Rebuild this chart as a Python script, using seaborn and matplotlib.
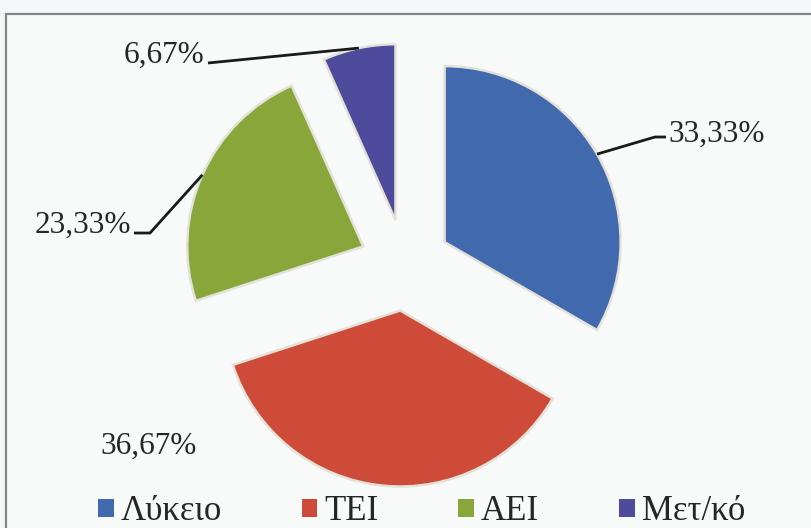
import numpy as np
import matplotlib
matplotlib.use("Agg")
import matplotlib.pyplot as plt
import seaborn as sns
from matplotlib.patches import Rectangle, Patch

# ---- data ----
categories = ["Λύκειο", "ΤΕΙ", "ΑΕΙ", "Μετ/κό"]
values = [33.33, 36.67, 23.33, 6.67]
pct_labels = ["33,33%", "36,67%", "23,33%", "6,67%"]
colors = ["#4169ae", "#cd4b38", "#88a63a", "#4f4b9c"]

sns.set_theme(style="white")
plt.rcParams['font.family'] = ['Liberation Serif', 'DejaVu Serif']
palette = sns.color_palette(colors)

W, H = 812, 528
R = 176.0           # pie radius in pixels
cx, cy = 405, 265   # pie centre (pixels from top-left)
explode_frac = 0.26

fig = plt.figure(figsize=(W / 100, H / 100), dpi=100)
fig.patch.set_facecolor('#f4f7f7')
fig.add_artist(Rectangle((6 / W, -0.05), 1.1, (H - 14) / H + 0.05,
                         transform=fig.transFigure, facecolor='#f8fafa',
                         edgecolor='#858585', lw=1.6, zorder=0))

ax = fig.add_axes([0, 0, 1, 1])
ax.set_facecolor('none')

wedges, _ = ax.pie(values, colors=palette, startangle=90, counterclock=False,
                   explode=[explode_frac] * len(values), radius=1,
                   wedgeprops=dict(edgecolor='#e4e1d8', linewidth=1.8))

ax.set_aspect('auto')
ax.set_xlim(-cx / R, (W - cx) / R)
ax.set_ylim(-(H - cy) / R, cy / R)
ax.axis('off')


def px(x, y):
    return ((x - cx) / R, (cy - y) / R)


# label layout (pixel positions): text anchor, alignment, leader path points
layout = [
    dict(text=(668, 134), ha='left', path=[(655, 137), (666, 137)]),
    dict(text=(100, 446), ha='left', path=None),
    dict(text=(131, 225), ha='right', path=[(150, 233), (134, 233)]),
    dict(text=(204, 55), ha='right', path=[(208, 63)]),
]

for w, lab, lay in zip(wedges, pct_labels, layout):
    th = np.deg2rad((w.theta1 + w.theta2) / 2)
    cxw, cyw = w.center
    anchor = (cxw + w.r * np.cos(th), cyw + w.r * np.sin(th))
    tx, ty = px(*lay['text'])
    ax.text(tx, ty, lab, ha=lay['ha'], va='center', fontsize=22.5, color='#262626')
    if lay['path']:
        pts = [anchor] + [px(*p) for p in lay['path']]
        xs, ys = zip(*pts)
        ax.plot(xs, ys, color='#1a1a1a', lw=2.0, solid_capstyle='butt')

handles = [Patch(facecolor=c, edgecolor='none') for c in palette]
fig.legend(handles, categories, loc='center', bbox_to_anchor=(0.519, 1 - 512 / H),
           ncol=4, frameon=False, fontsize=25, handlelength=0.45, handleheight=0.45,
           handletextpad=0.2, columnspacing=2.3, labelcolor='#262626')

fig.savefig('out.png', dpi=100, facecolor=fig.get_facecolor())
